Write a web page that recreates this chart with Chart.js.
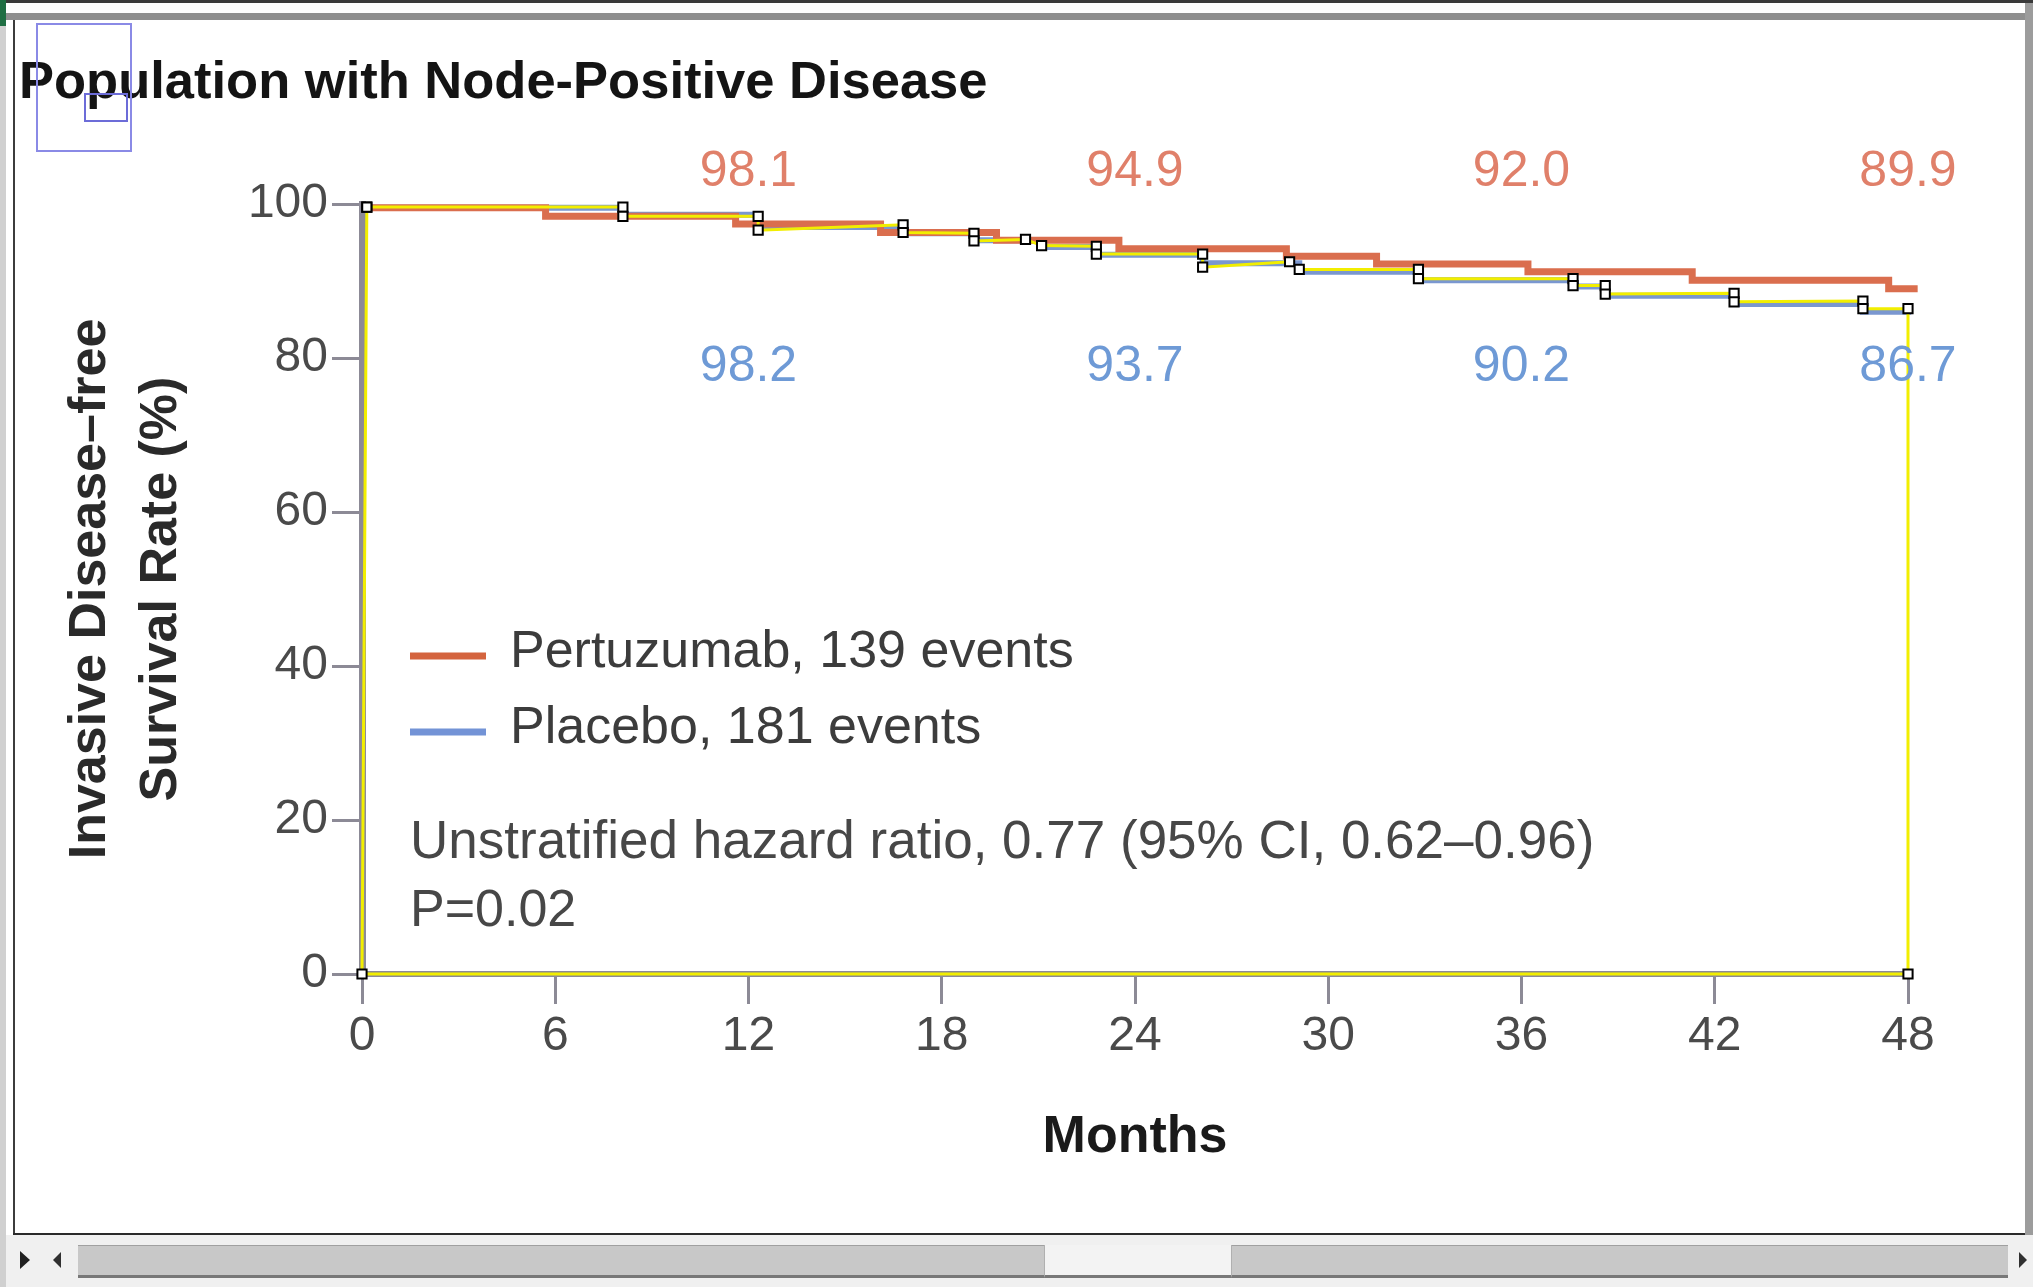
<!DOCTYPE html>
<html><head><meta charset="utf-8">
<script src="https://cdn.jsdelivr.net/npm/chart.js@4.4.1/dist/chart.umd.min.js"></script>
<style>
html,body{margin:0;padding:0;background:#fff;overflow:hidden;}
#wrap{position:relative;width:2033px;height:1287px;background:#fff;}
canvas{position:absolute;left:0;top:0;}
.f{position:absolute;pointer-events:none;box-sizing:border-box;}
</style></head><body>
<div id="wrap">
<canvas id="c" width="2033" height="1287"></canvas>
<!-- window chrome -->
<div class="f" style="left:0;top:0;width:2033px;height:3px;background:#3a3a3a"></div>
<div class="f" style="left:6px;top:13px;width:2019px;height:7px;background:#8f8f8f"></div>
<div class="f" style="left:0;top:0;width:6px;height:26px;background:#1f6e43"></div>
<div class="f" style="left:0;top:26px;width:6px;height:1261px;background:#d0d0d0"></div>
<div class="f" style="left:13px;top:20px;width:2px;height:1215px;background:#3c3c3c"></div>
<div class="f" style="left:2025px;top:3px;width:8px;height:1232px;background:#9c9c9c"></div>
<div class="f" style="left:13px;top:1233px;width:2012px;height:2px;background:#2a2a2a"></div>
<div class="f" style="left:6px;top:1235px;width:2027px;height:52px;background:#f0f0f0"></div>
<div class="f" style="left:78px;top:1245px;width:1930px;height:33px;background:#c8c8c8;border-top:1px solid #a0a0a0;border-bottom:3px solid #787878"></div>
<div class="f" style="left:1044px;top:1245px;width:188px;height:33px;background:#f3f3f3;border-left:1px solid #b0b0b0;border-right:1px solid #b0b0b0;border-bottom:3px solid #787878"></div>
<div class="f" style="left:20px;top:1251px;width:0;height:0;border-top:9px solid transparent;border-bottom:9px solid transparent;border-left:10px solid #202020"></div>
<div class="f" style="left:53px;top:1252px;width:0;height:0;border-top:8px solid transparent;border-bottom:8px solid transparent;border-right:8px solid #303030"></div>
<div class="f" style="left:2019px;top:1252px;width:0;height:0;border-top:8px solid transparent;border-bottom:8px solid transparent;border-left:8px solid #303030"></div>
<!-- selection boxes -->
<div class="f" style="left:36px;top:23px;width:96px;height:129px;border:2px solid #8a8ae6"></div>
<div class="f" style="left:84px;top:93px;width:44px;height:29px;border:2px solid #6c6cd8"></div>
</div>
<script>
// ---- data ----
const seriesNames = ['Pertuzumab, 139 events', 'Placebo, 181 events'];
const pertuzumabMonths = [0, 5.7, 11.6, 16.1, 19.7, 23.5, 28.7, 31.5, 36.2, 41.3, 47.4, 48.3];
const pertuzumabRate   = [99.5, 98.4, 97.4, 96.3, 95.3, 94.2, 93.2, 92.2, 91.2, 90.1, 89.0, 89.0];
const placeboMonths = [0, 8.1, 12.3, 16.8, 19.0, 21.1, 22.8, 26.1, 29.1, 32.8, 37.6, 38.6, 42.6, 46.6, 48.1];
const placeboRate   = [99.5, 98.6, 97.0, 96.2, 95.3, 94.4, 93.4, 92.3, 91.2, 90.1, 89.3, 88.1, 87.0, 86.0, 86.0];
const traceMonths = [0.15, 8.1, 8.1, 12.3, 12.3, 16.8, 16.8, 19.0, 19.0, 20.6, 21.1, 22.8, 22.8, 26.1, 26.1, 28.8, 29.1, 32.8, 32.8, 37.6, 37.6, 38.6, 38.6, 42.6, 42.6, 46.6, 46.6, 48.0, 48.0, 0, 0.15];
const traceRate   = [99.6, 99.6, 98.4, 98.4, 96.6, 97.3, 96.3, 96.2, 95.2, 95.4, 94.6, 94.5, 93.5, 93.5, 91.8, 92.5, 91.5, 91.5, 90.3, 90.3, 89.4, 89.4, 88.3, 88.4, 87.3, 87.4, 86.4, 86.4, 0, 0, 99.6];
const landmarkMonths = [12, 24, 36, 48];
const pertuzumabLandmark = ['98.1', '94.9', '92.0', '89.9'];
const placeboLandmark = ['98.2', '93.7', '90.2', '86.7'];
const xTickStep = 6, xMin = 0, xMax = 48;
const yTickStep = 20, yMin = 0, yMax = 100;
const chartTitle = 'Population with Node-Positive Disease';
const yTitle = ['Invasive Disease\u2013free', 'Survival Rate (%)'];
const xTitle = 'Months';
const statLines = ['Unstratified hazard ratio, 0.77 (95% CI, 0.62\u20130.96)', 'P=0.02'];

// ---- styling ----
const FONT = '"Liberation Sans", Arial, sans-serif';
const ORANGE = '#DA6E4E';
const BLUE = '#7A97D0';
const YELLOW = '#F2EE00';
const AXIS = '#8c8a96';

const toPts = (xs, ys) => xs.map((x, i) => ({x: x, y: ys[i]}));
const traceBg = traceMonths.map((m, i) => i === 0 ? YELLOW : '#ffffff');

const overlay = {
  id: 'overlay',
  afterDatasetsDraw(chart) {
    const {ctx, chartArea, scales} = chart;
    ctx.save();
    ctx.textAlign = 'center';
    ctx.textBaseline = 'middle';
    ctx.font = '50px ' + FONT;
    landmarkMonths.forEach((m, i) => {
      const x = scales.x.getPixelForValue(m);
      ctx.fillStyle = '#E0806A';
      ctx.fillText(pertuzumabLandmark[i], x, chartArea.top - 32);
      ctx.fillStyle = '#6E9AD6';
      ctx.fillText(placeboLandmark[i], x, chartArea.top + 163);
    });
    // legend
    const lx = chartArea.left + 48;
    const rows = [chartArea.top + 449, chartArea.top + 525];
    const legendColors = ['#D4643E', '#7393D6'];
    ctx.textAlign = 'left';
    ctx.font = '52px ' + FONT;
    rows.forEach((y, i) => {
      ctx.strokeStyle = legendColors[i];
      ctx.lineWidth = 7;
      ctx.beginPath();
      ctx.moveTo(lx, y + 3);
      ctx.lineTo(lx + 76, y + 3);
      ctx.stroke();
      ctx.fillStyle = '#3c3c3c';
      ctx.fillText(seriesNames[i], lx + 100, y);
    });
    ctx.fillStyle = '#474747';
    ctx.font = '53px ' + FONT;
    ctx.fillText(statLines[0], lx, chartArea.top + 639);
    ctx.font = '52px ' + FONT;
    ctx.fillText(statLines[1], lx, chartArea.top + 708);
    ctx.restore();
  }
};

new Chart(document.getElementById('c'), {
  type: 'line',
  data: {
    datasets: [
      {
        label: 'trace',
        data: toPts(traceMonths, traceRate),
        borderColor: YELLOW,
        borderWidth: 3,
        pointStyle: 'rect',
        pointRadius: 6.5,
        pointBorderColor: '#000',
        pointBorderWidth: 2,
        pointBackgroundColor: traceBg,
        tension: 0,
        clip: false,
        order: 0
      },
      {
        label: seriesNames[0],
        data: toPts(pertuzumabMonths, pertuzumabRate),
        borderColor: ORANGE,
        borderWidth: 7,
        stepped: 'before',
        pointRadius: 0,
        clip: false,
        order: 1
      },
      {
        label: seriesNames[1],
        data: toPts(placeboMonths, placeboRate),
        borderColor: BLUE,
        borderWidth: 6,
        stepped: 'before',
        pointRadius: 0,
        clip: false,
        order: 2
      }
    ]
  },
  options: {
    responsive: false,
    animation: false,
    events: [],
    layout: {padding: {left: 19, right: 125, top: 0, bottom: 0}},
    plugins: {
      legend: {display: false},
      tooltip: {enabled: false},
      title: {
        display: true,
        text: chartTitle,
        align: 'start',
        color: '#141414',
        font: {family: FONT, size: 52.5, weight: 'bold', lineHeight: 1.2},
        padding: {top: 52.5, bottom: 88.5}
      }
    },
    scales: {
      x: {
        type: 'linear',
        min: xMin, max: xMax,
        ticks: {stepSize: xTickStep, color: '#4a4a4a', padding: 4, font: {family: FONT, size: 48}},
        grid: {drawOnChartArea: false, drawTicks: true, tickLength: 30, color: AXIS, lineWidth: 3},
        border: {display: true, color: AXIS, width: 6},
        title: {display: true, text: xTitle, color: '#1a1a1a', font: {family: FONT, size: 52, weight: 'bold', lineHeight: 1.2}, padding: {top: 0, bottom: 117.8}},
        afterFit(scale) { scale.height = 313; }
      },
      y: {
        type: 'linear',
        min: yMin, max: yMax,
        ticks: {stepSize: yTickStep, color: '#4a4a4a', padding: 4, font: {family: FONT, size: 48}},
        grid: {drawOnChartArea: false, drawTicks: true, tickLength: 30, color: AXIS, lineWidth: 3},
        border: {display: true, color: AXIS, width: 7},
        title: {display: true, text: yTitle, color: '#2a2a2a', font: {family: FONT, size: 52, weight: 'bold', lineHeight: 1.365}, padding: {top: 36.5, bottom: 0}},
        afterFit(scale) { scale.width = 343; }
      }
    }
  },
  plugins: [overlay]
});
</script>
</body></html>
